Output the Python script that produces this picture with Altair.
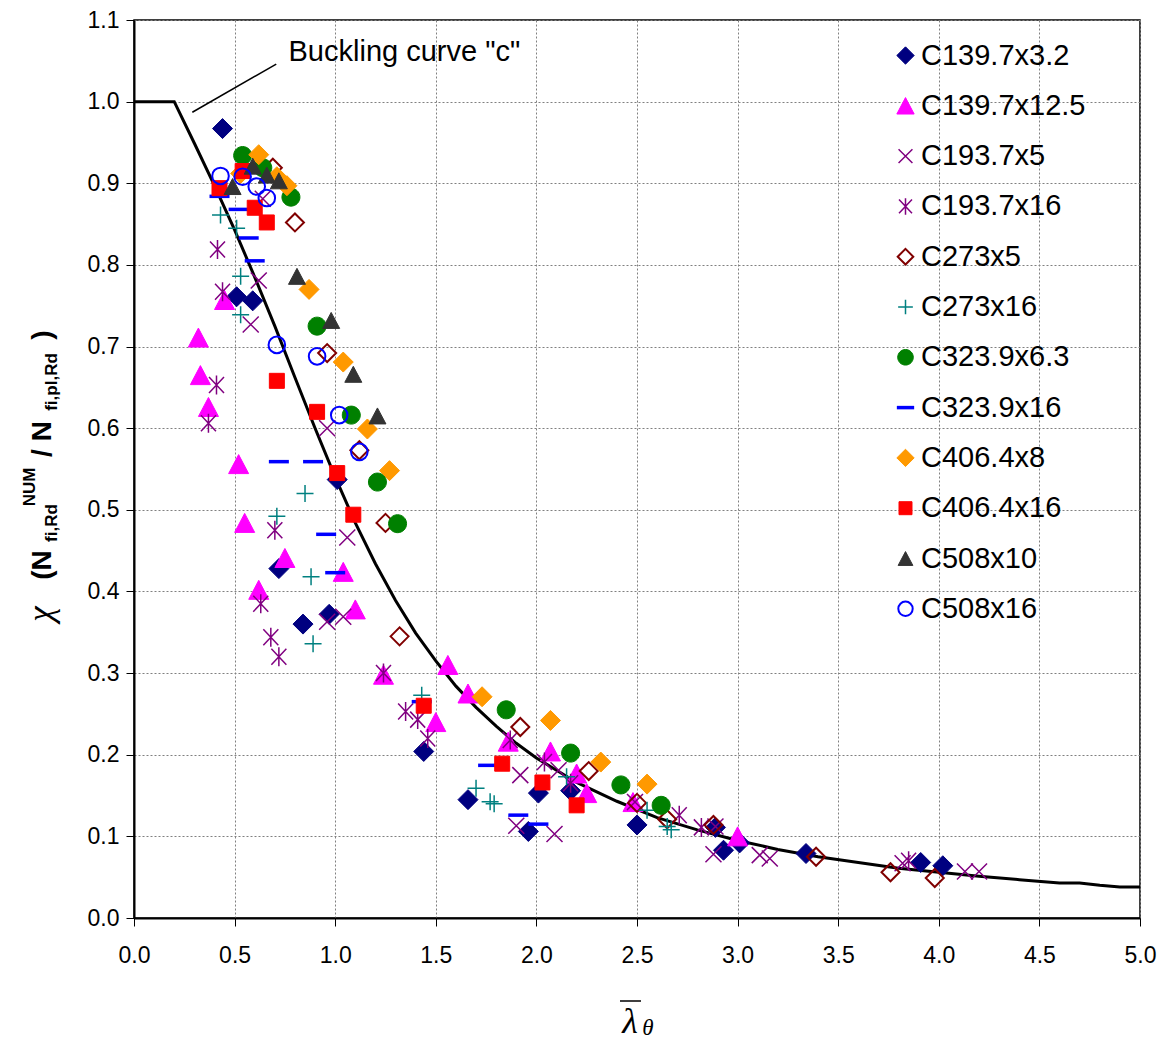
import altair as alt
import pandas as pd

FONT = "Liberation Sans, Arial, sans-serif"
NARROW = "Liberation Sans Narrow, Arial Narrow, Liberation Sans, Arial, sans-serif"
SERIF = "Liberation Serif, Times New Roman, serif"

# ---- series names (legend order) ----
SERIES = ["C139.7x3.2", "C139.7x12.5", "C193.7x5", "C193.7x16", "C273x5", "C273x16",
          "C323.9x6.3", "C323.9x16", "C406.4x8", "C406.4x16", "C508x10", "C508x16"]

# ---- numerical results: non-dimensional slenderness / reduction factor ----
C139_7x3_2_LAM = [0.44, 0.51, 0.59, 0.72, 0.84, 0.97, 1.01, 1.44, 1.66, 1.96, 2.01, 2.17, 2.50, 2.89, 2.93, 3.01, 3.34, 3.91, 4.02]
C139_7x3_2_CHI = [0.967, 0.761, 0.756, 0.428, 0.360, 0.372, 0.537, 0.204, 0.145, 0.106, 0.153, 0.156, 0.114, 0.111, 0.083, 0.092, 0.079, 0.068, 0.064]

C139_7x12_5_LAM = [0.32, 0.33, 0.37, 0.45, 0.52, 0.55, 0.62, 0.75, 1.04, 1.10, 1.24, 1.50, 1.56, 1.66, 1.86, 2.07, 2.20, 2.25, 2.48, 3.00]
C139_7x12_5_CHI = [0.711, 0.665, 0.626, 0.757, 0.556, 0.484, 0.402, 0.441, 0.424, 0.378, 0.298, 0.240, 0.310, 0.275, 0.216, 0.204, 0.177, 0.153, 0.142, 0.100]

C193_7x5_LAM = [0.58, 0.62, 0.64, 0.96, 0.96, 1.04, 1.06, 1.90, 1.92, 2.09, 2.11, 2.49, 2.88, 2.89, 3.11, 3.16, 3.82, 4.13, 4.20]
C193_7x5_CHI = [0.727, 0.781, 0.881, 0.600, 0.363, 0.369, 0.466, 0.113, 0.175, 0.103, 0.181, 0.142, 0.078, 0.112, 0.077, 0.073, 0.067, 0.057, 0.057]

C193_7x16_LAM = [0.37, 0.41, 0.415, 0.44, 0.63, 0.68, 0.70, 0.72, 1.24, 1.35, 1.41, 1.46, 1.87, 2.04, 2.17, 2.71, 2.82, 3.85]
C193_7x16_CHI = [0.606, 0.653, 0.819, 0.767, 0.385, 0.344, 0.475, 0.320, 0.300, 0.253, 0.243, 0.220, 0.218, 0.191, 0.165, 0.126, 0.111, 0.070]

C273x5_LAM = [0.69, 0.80, 0.96, 1.12, 1.25, 1.32, 1.92, 2.26, 2.50, 2.65, 2.88, 3.39, 3.76, 3.98]
C273x5_CHI = [0.919, 0.852, 0.692, 0.573, 0.484, 0.345, 0.234, 0.180, 0.141, 0.121, 0.114, 0.075, 0.056, 0.049]

C273x16_LAM = [0.43, 0.51, 0.53, 0.53, 0.71, 0.85, 0.88, 0.89, 1.43, 1.70, 1.77, 1.79, 2.15, 2.55, 2.65, 2.67]
C273x16_CHI = [0.861, 0.845, 0.786, 0.739, 0.492, 0.520, 0.418, 0.336, 0.273, 0.159, 0.1425, 0.140, 0.173, 0.132, 0.112, 0.108]

C323_9x6_3_LAM = [0.54, 0.64, 0.78, 0.91, 1.08, 1.21, 1.31, 1.85, 2.17, 2.42, 2.62]
C323_9x6_3_CHI = [0.934, 0.919, 0.883, 0.725, 0.616, 0.534, 0.483, 0.255, 0.202, 0.163, 0.138]

C323_9x16_LAM = [0.425, 0.52, 0.57, 0.60, 0.72, 0.89, 0.955, 1.00, 1.43, 1.76, 1.91, 2.01]
C323_9x16_CHI = [0.884, 0.868, 0.833, 0.805, 0.559, 0.559, 0.470, 0.423, 0.265, 0.187, 0.126, 0.115]

C406_4x8_LAM = [0.53, 0.62, 0.71, 0.76, 0.87, 1.04, 1.16, 1.27, 1.73, 2.07, 2.32, 2.55]
C406_4x8_CHI = [0.912, 0.935, 0.908, 0.897, 0.770, 0.681, 0.599, 0.548, 0.271, 0.242, 0.191, 0.164]

C406_4x16_LAM = [0.425, 0.54, 0.60, 0.66, 0.71, 0.91, 1.01, 1.09, 1.44, 1.83, 2.03, 2.20]
C406_4x16_CHI = [0.894, 0.915, 0.870, 0.852, 0.658, 0.620, 0.545, 0.494, 0.260, 0.189, 0.166, 0.138]

C508x10_LAM = [0.49, 0.59, 0.66, 0.72, 0.81, 0.98, 1.09, 1.21]
C508x10_CHI = [0.896, 0.921, 0.910, 0.903, 0.786, 0.732, 0.666, 0.615]

C508x16_LAM = [0.43, 0.54, 0.61, 0.66, 0.71, 0.91, 1.02, 1.12]
C508x16_CHI = [0.909, 0.908, 0.896, 0.882, 0.702, 0.688, 0.616, 0.571]

# ---- buckling curve "c" ----
CURVE_LAMBDA = [0.0, 0.2, 0.3, 0.4, 0.5, 0.6, 0.7, 0.8, 0.9, 1.0, 1.1, 1.2, 1.3, 1.4, 1.5, 1.6,
                1.7, 1.8, 1.9, 2.0, 2.2, 2.4, 2.6, 2.8, 3.0, 3.2, 3.4, 3.6, 3.8, 4.0, 4.2,
                4.4, 4.6, 4.7, 4.8, 4.9, 5.0]
CURVE_CHI = [1.000, 1.000, 0.949, 0.897, 0.843, 0.785, 0.725, 0.662, 0.600, 0.540, 0.484, 0.434,
             0.389, 0.349, 0.315, 0.284, 0.258, 0.235, 0.214, 0.196, 0.166, 0.143, 0.123, 0.108,
             0.095, 0.084, 0.075, 0.068, 0.061, 0.056, 0.051, 0.047, 0.043, 0.043, 0.040, 0.038,
             0.038]

X_TICKS = [0.0, 0.5, 1.0, 1.5, 2.0, 2.5, 3.0, 3.5, 4.0, 4.5, 5.0]
Y_TICKS = [0.0, 0.1, 0.2, 0.3, 0.4, 0.5, 0.6, 0.7, 0.8, 0.9, 1.0, 1.1]

# ---- marker styles (symbol paths in unit coordinates) ----
DIAMOND = "M-1,0L0,-1L1,0L0,1Z"
TRIANGLE = "M-1,0.95L1,0.95L0,-0.95Z"
CROSS_X = "M-0.8,-0.8L0.8,0.8M-0.8,0.8L0.8,-0.8"
STAR = "M-0.75,-0.8L0.75,0.8M-0.75,0.8L0.75,-0.8M0,-0.95L0,0.95"
OPEN_DIAMOND = "M-0.9,0L0,-0.9L0.9,0L0,0.9Z"
PLUS = "M-0.85,0L0.85,0M0,-0.85L0,0.85"
DOT = "M-0.9,0A0.9,0.9,0,1,1,0.9,0A0.9,0.9,0,1,1,-0.9,0Z"
DASH = "M-1,0L1,0"
SQUARE = "M-0.75,-0.75L0.75,-0.75L0.75,0.75L-0.75,0.75Z"
SMALL_TRIANGLE = "M-0.85,0.8L0.85,0.8L0,-0.8Z"
RING = "M-0.83,0A0.83,0.83,0,1,1,0.83,0A0.83,0.83,0,1,1,-0.83,0Z"

SHAPES = [DIAMOND, TRIANGLE, CROSS_X, STAR, OPEN_DIAMOND, PLUS, DOT, DASH, DIAMOND, SQUARE,
          SMALL_TRIANGLE, RING]
FILLS = ["#000080", "#FF00FF", "transparent", "transparent", "transparent", "transparent",
         "#008000", "transparent", "#FF9900", "#FF0000", "#333333", "transparent"]
STROKES = ["#000080", "#FF00FF", "#800080", "#800080", "#800000", "#008080",
           "#008000", "#0000FF", "#FF9900", "#FF0000", "#333333", "#0000FF"]
WIDTHS = [1, 1, 1.5, 1.5, 2, 1.5, 1, 3.5, 1, 1, 1, 2]

lams = [C139_7x3_2_LAM, C139_7x12_5_LAM, C193_7x5_LAM, C193_7x16_LAM, C273x5_LAM, C273x16_LAM,
        C323_9x6_3_LAM, C323_9x16_LAM, C406_4x8_LAM, C406_4x16_LAM, C508x10_LAM, C508x16_LAM]
chis = [C139_7x3_2_CHI, C139_7x12_5_CHI, C193_7x5_CHI, C193_7x16_CHI, C273x5_CHI, C273x16_CHI,
        C323_9x6_3_CHI, C323_9x16_CHI, C406_4x8_CHI, C406_4x16_CHI, C508x10_CHI, C508x16_CHI]

points = pd.concat(
    [pd.DataFrame({"lam": lx, "chi": cy, "series": name}) for name, lx, cy in zip(SERIES, lams, chis)],
    ignore_index=True,
)
curve = pd.DataFrame({"lam": CURVE_LAMBDA, "chi": CURVE_CHI})

W, H = 1006, 898
LEFT, TOP = 134, 20

xscale = alt.Scale(domain=[0, 5], nice=False, zero=False)
yscale = alt.Scale(domain=[0, 1.1], nice=False, zero=False)

x_axis = alt.Axis(values=X_TICKS, format=".1f", title=None, labelFontSize=23, labelFont=FONT,
                  labelColor="black", tickSize=8, tickColor="black", labelPadding=18,
                  domainColor="black", domainWidth=2, grid=True, gridColor="#808080",
                  gridDash=[2, 2], gridWidth=1, labelFlush=False, labelOverlap=False)
y_axis = alt.Axis(values=Y_TICKS, format=".1f", title=None, labelFontSize=23, labelFont=FONT,
                  labelColor="black", tickSize=8, tickColor="black", labelPadding=7,
                  domainColor="black", domainWidth=2, grid=True, gridColor="#808080",
                  gridDash=[2, 2], gridWidth=1, labelFlush=False, labelOverlap=False)

legend = alt.Legend(title=None, orient="none", legendX=757, legendY=21, labelFontSize=29,
                    labelFont=FONT, labelColor="black", symbolSize=300, rowPadding=20.3,
                    labelOffset=1, padding=0, labelLimit=400)

line = alt.Chart(curve).mark_line(color="black", strokeWidth=3).encode(
    x=alt.X("lam:Q", scale=xscale, axis=x_axis),
    y=alt.Y("chi:Q", scale=yscale, axis=y_axis),
)

dots = alt.Chart(points).mark_point(size=400, opacity=1).encode(
    x=alt.X("lam:Q", scale=xscale),
    y=alt.Y("chi:Q", scale=yscale),
    shape=alt.Shape("series:N", scale=alt.Scale(domain=SERIES, range=SHAPES), legend=legend),
    fill=alt.Fill("series:N", scale=alt.Scale(domain=SERIES, range=FILLS), legend=legend),
    stroke=alt.Stroke("series:N", scale=alt.Scale(domain=SERIES, range=STROKES), legend=legend),
    strokeWidth=alt.StrokeWidth("series:N", scale=alt.Scale(type="ordinal", domain=SERIES, range=WIDTHS),
                                legend=legend),
    order=alt.Order("idx:Q"),
).transform_window(idx="row_number()")

# curve label with leader line
label_df = pd.DataFrame({"lam": [0.29], "chi": [0.987], "lam2": [0.707], "chi2": [1.046]})
leader = alt.Chart(label_df).mark_rule(color="black", strokeWidth=1.5).encode(
    x=alt.X("lam:Q", scale=xscale), y=alt.Y("chi:Q", scale=yscale),
    x2="lam2:Q", y2="chi2:Q",
)
label = alt.Chart(pd.DataFrame({"lam": [0.768], "chi": [1.050], "t": ['Buckling curve "c"']})).mark_text(
    align="left", baseline="alphabetic", fontSize=29, font=FONT, color="black"
).encode(x=alt.X("lam:Q", scale=xscale), y=alt.Y("chi:Q", scale=yscale), text="t:N")


def piece(text, px, py, size, font=FONT, weight="normal", style="normal", angle=0, align="center"):
    """A piece of axis title text placed at page pixel (px, py)."""
    return alt.Chart(pd.DataFrame({"t": [text]})).mark_text(
        fontSize=size, font=font, fontWeight=weight, fontStyle=style, angle=angle,
        align=align, baseline="alphabetic", color="black",
    ).encode(x=alt.value(px - LEFT), y=alt.value(py - TOP), text="t:N")


# x-axis title: lambda-bar with subscript theta
overbar = alt.Chart(pd.DataFrame({"a": [0]})).mark_rule(color="black", strokeWidth=1.5).encode(
    x=alt.value(620 - LEFT), x2=alt.value(641 - LEFT), y=alt.value(1001 - TOP)
)
x_title = [
    piece("λ", 630, 1033, 36, font=SERIF, style="italic"),
    piece("θ", 648, 1035, 23, font=SERIF, style="italic"),
]

# y-axis title: chi (N_fi,Rd^NUM / N_fi,pl,Rd), rotated
y_title = [
    piece("χ", 52, 614, 35, font=SERIF, style="italic", angle=270),
    piece("(N", 51, 565, 28, font=NARROW, weight="bold", angle=270),
    piece("fi,Rd", 57, 523, 17, font=NARROW, weight="bold", angle=270),
    piece("NUM", 35, 487, 17, font=NARROW, weight="bold", angle=270),
    piece("/ N", 51, 439, 28, font=NARROW, weight="bold", angle=270),
    piece("fi,pl,Rd", 57, 382, 17, font=NARROW, weight="bold", angle=270),
    piece(")", 51, 335, 28, font=NARROW, weight="bold", angle=270),
]

chart = alt.layer(line, dots, leader, label, overbar, *x_title, *y_title).properties(
    width=W, height=H,
    padding={"left": LEFT, "top": TOP, "right": 1165 - LEFT - W, "bottom": 1043 - TOP - H},
    autosize=alt.AutoSizeParams(type="none"),
    background="white",
).configure_view(stroke="black", strokeWidth=1.5)

chart.save("out.html", embed_options={"renderer": "svg", "actions": False})
